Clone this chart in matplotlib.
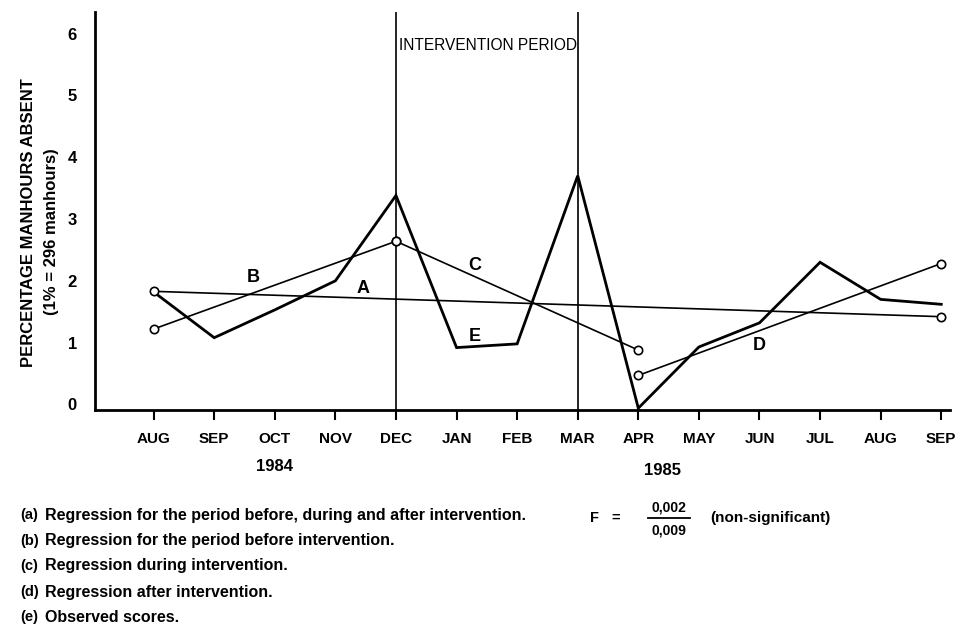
import matplotlib
matplotlib.use("Agg")
import matplotlib.pyplot as plt
from matplotlib.lines import Line2D
from matplotlib.transforms import blended_transform_factory

plt.rcParams['font.family'] = ['Liberation Sans', 'DejaVu Sans']
plt.rcParams['font.weight'] = 'bold'

# ---- data ----
months = ['AUG', 'SEP', 'OCT', 'NOV', 'DEC', 'JAN', 'FEB', 'MAR',
          'APR', 'MAY', 'JUN', 'JUL', 'AUG', 'SEP']
years = ['1984', '1985']
year_pos = [2.0, 8.4]
observed = [1.82, 1.08, 1.53, 2.00, 3.38, 0.92, 0.98, 3.70,
            -0.06, 0.93, 1.32, 2.30, 1.70, 1.62]

reg_a_x = [0, 13]
reg_a_y = [1.83, 1.42]
reg_b_x = [0, 4]
reg_b_y = [1.22, 2.64]
reg_c_x = [4, 8]
reg_c_y = [2.64, 0.88]
reg_d_x = [8, 13]
reg_d_y = [0.47, 2.28]

intervention = [4, 7]

line_labels = ['A', 'B', 'C', 'D', 'E']
label_x = [3.45, 1.65, 5.3, 10.0, 5.3]
label_y = [1.88, 2.05, 2.25, 0.96, 1.10]

notes = ['(a)', '(b)', '(c)', '(d)', '(e)']
note_texts = ['Regression for the period before, during and after intervention.',
              'Regression for the period before intervention.',
              'Regression during intervention.',
              'Regression after intervention.',
              'Observed scores.']

# ---- figure ----
fig = plt.figure(figsize=(9.58, 6.26), dpi=100)
ax = fig.add_axes([0.099, 0.345, 0.893, 0.636])

x = list(range(len(months)))
ax.plot(x, observed, color='black', lw=2.0, solid_joinstyle='miter', zorder=3)

mk = dict(color='black', lw=1.2, marker='o', markersize=6,
          markerfacecolor='white', markeredgewidth=1.2, zorder=4)
ax.plot(reg_a_x, reg_a_y, **mk)
ax.plot(reg_b_x, reg_b_y, **mk)
ax.plot(reg_c_x, reg_c_y, **mk)
ax.plot(reg_d_x, reg_d_y, **mk)

for xv in intervention:
    ax.axvline(xv, color='black', lw=1.2, zorder=2)

ax.text(intervention[0] + 0.05, 5.8, 'INTERVENTION PERIOD', fontsize=11.2,
        fontweight='normal', va='center', ha='left')

for lab, lx, ly in zip(line_labels, label_x, label_y):
    ax.text(lx, ly, lab, fontsize=13, fontweight='bold', ha='center', va='center')

ax.set_xlim(-0.97, 13.15)
ax.set_ylim(-0.09, 6.35)
ax.set_xticks(x)
ax.set_xticklabels(months, fontsize=11, fontweight='bold')
ax.set_yticks(range(0, 7))
ax.set_yticklabels([str(v) for v in range(0, 7)], fontsize=12, fontweight='bold')
ax.tick_params(axis='x', direction='out', length=7, width=1.5, pad=9)
ax.tick_params(axis='y', length=0, pad=13)
for s in ['top', 'right']:
    ax.spines[s].set_visible(False)
for s in ['left', 'bottom']:
    ax.spines[s].set_linewidth(2.0)

trans = blended_transform_factory(ax.transData, fig.transFigure)
for yr, xp, yy in zip(years, year_pos, [0.255, 0.249]):
    ax.text(xp, yy, yr, transform=trans, fontsize=12, fontweight='bold',
            ha='center', va='center')

fig.text(0.030, 0.645, 'PERCENTAGE MANHOURS ABSENT', rotation=90, fontsize=12,
         fontweight='bold', ha='center', va='center')
fig.text(0.054, 0.630, '(1% = 296 manhours)', rotation=90, fontsize=12,
         fontweight='bold', ha='center', va='center')

note_y = [0.177, 0.136, 0.096, 0.054, 0.014]
for n, t, yy in zip(notes, note_texts, note_y):
    fig.text(0.021, yy, n, fontsize=10.5, fontweight='bold', va='center', ha='left')
    fig.text(0.047, yy, t, fontsize=11.5, fontweight='bold', va='center', ha='left')

fig.text(0.616, 0.173, 'F', fontsize=10.5, fontweight='bold', va='center', ha='left')
fig.text(0.638, 0.173, '=', fontsize=10.5, fontweight='bold', va='center', ha='left')
fig.text(0.698, 0.190, '0,002', fontsize=10, fontweight='bold', va='center', ha='center')
fig.text(0.698, 0.153, '0,009', fontsize=10, fontweight='bold', va='center', ha='center')
fig.add_artist(Line2D([0.676, 0.720], [0.173, 0.173], color='black', lw=1.3,
                      transform=fig.transFigure))
fig.text(0.741, 0.173, '(non-significant)', fontsize=11, fontweight='bold',
         va='center', ha='left')

fig.savefig('out.png', dpi=100)
